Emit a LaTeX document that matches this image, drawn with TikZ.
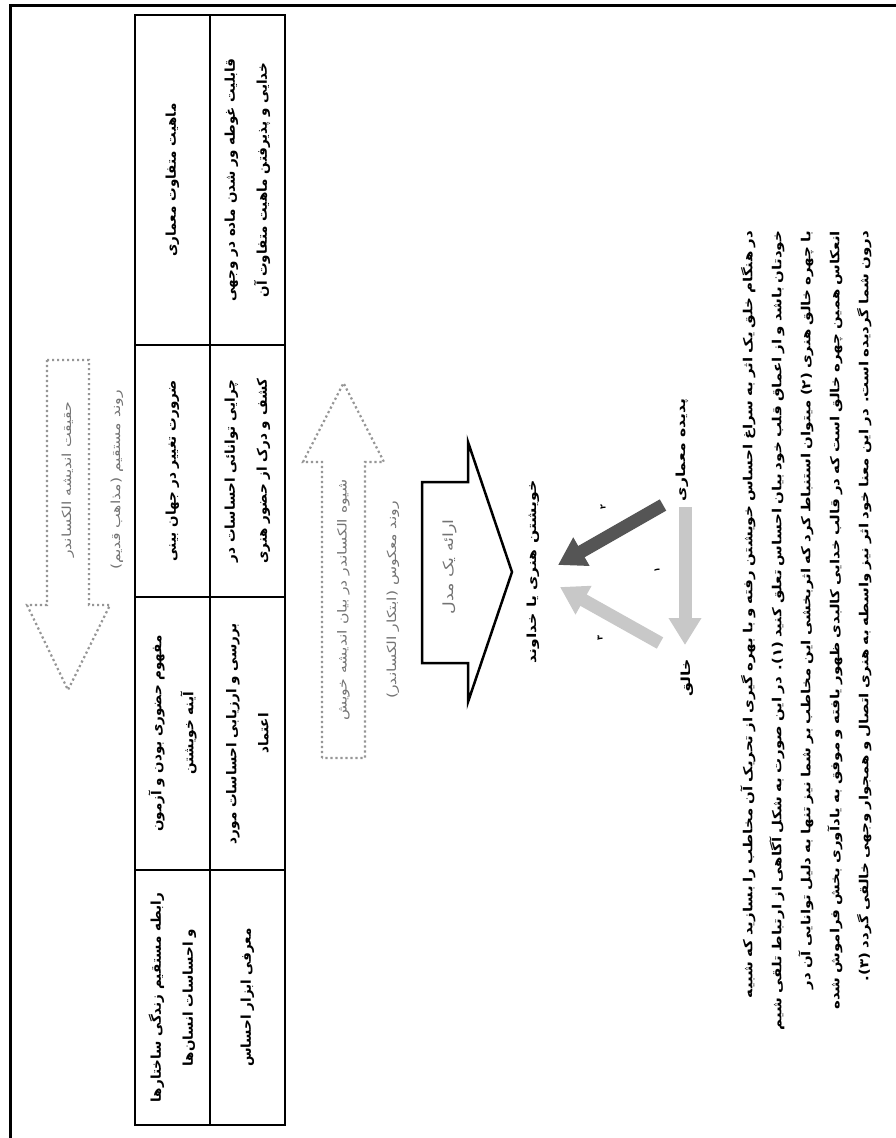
\documentclass[tikz,border=0pt]{standalone}
\usepackage{fontspec}
\newfontfamily\fa[Script=Arabic]{DejaVu Sans}
\newfontfamily\faw[Script=Arabic,FakeStretch=1.25]{DejaVu Sans}
\newfontfamily\fap[Script=Arabic,FakeStretch=1.2]{DejaVu Sans}
\TeXXeTstate=1
\usetikzlibrary{arrows.meta}
\definecolor{dotgray}{RGB}{150,150,150}
\definecolor{labgray}{RGB}{115,115,115}
\definecolor{darkarr}{RGB}{85,85,85}
\definecolor{lightarr}{RGB}{200,200,200}
\newcommand{\rtl}[1]{\beginR #1\endR}
\newcommand{\rtlbox}[1]{\mbox{\beginR #1\endR}}

\begin{document}
\begin{tikzpicture}[x=1pt,y=-1pt,
  cellbox/.style={draw, line width=1.6pt, rotate=90, align=center, inner sep=0pt,
    minimum height=75pt, font=\fa\bfseries\fontsize{13.5}{32}\selectfont},
  dotarrow/.style={draw=dotgray, line width=2.2pt, dash pattern=on 2.2pt off 2.8pt},
  dotlabel/.style={rotate=90, text=labgray, font=\faw\fontsize{12.5}{14}\selectfont},
  keylabel/.style={rotate=90, font=\faw\bfseries\fontsize{12.5}{14}\selectfont},
  numlabel/.style={rotate=90, font=\fa\bfseries\fontsize{8}{9}\selectfont},
  bigarrow/.style={line width=13pt, -{Triangle[length=27pt,width=31pt]}}
]
\fill[white] (0,0) rectangle (896,1138);
\useasboundingbox (0,0) rectangle (896,1138);

% frame
\draw[line width=3pt] (10,1138) -- (10,5) -- (896,5);

% table, header row on the left
\node[cellbox, minimum width=330pt] (h1) at (172.5,180) {\rtl{ماهیت متفاوت معماری}};
\node[cellbox, minimum width=252pt] (h2) at (172.5,471) {\rtl{ضرورت تغییر در جهان بینی}};
\node[cellbox, minimum width=273pt] (h3) at (172.5,733.5) {\rtl{مفهوم حضوری بودن و آزمون}\\\rtl{آینه خویشتن}};
\node[cellbox, minimum width=255pt] (h4) at (172.5,997.5) {\rtl{رابطه مستقیم زندگی ساختارها}\\\rtl{و احساسات انسان‌ها}};
\node[cellbox, minimum width=330pt] (b1) at (247.5,180) {\rtl{قابلیت غوطه ور شدن ماده در وجهی}\\\rtl{خدایی و پذیرفتن ماهیت متفاوت آن}};
\node[cellbox, minimum width=252pt] (b2) at (247.5,471) {\rtl{چرایی توانائی احساسات در}\\\rtl{کشف و درک از حضور هنری}};
\node[cellbox, minimum width=273pt] (b3) at (247.5,733.5) {\rtl{بررسی و ارزیابی احساسات مورد}\\\rtl{اعتماد}};
\node[cellbox, minimum width=255pt] (b4) at (247.5,997.5) {\rtl{معرفی ابزار احساس}};

% dotted arrows
\draw[dotarrow] (47,360) -- (89,360) -- (89,605) -- (110,605) -- (68,690) -- (27,605) -- (47,605) -- cycle;
\node[dotlabel] (haghighat) at (68,480) {\rtl{حقیقت اندیشه الکساندر}};
\node[dotlabel] (mostaghim) at (117,480) {\rtl{روند مستقیم (مذاهب قدیم)}};

\draw[dotarrow] (322,758) -- (322,462) -- (303,462) -- (343.5,383) -- (384,462) -- (365,462) -- (365,758) -- cycle;
\node[dotlabel] (shiveh) at (343.5,600) {\rtl{شیوه الکساندر در بیان اندیشه خویش}};
\node[dotlabel] (maakus) at (393,600) {\rtl{روند معکوس (ابتکار الکساندر)}};

% model arrow
\draw[line width=2.5pt, fill=white] (422,482) -- (468,482) -- (468,442) -- (512,572) -- (468,702) -- (468,663) -- (422,663) -- cycle;
\node[dotlabel, font=\faw\fontsize{14}{16}\selectfont] (model) at (450,567) {\rtl{ارائه یک مدل}};

% triangle
\node[keylabel] (khishtan) at (533,572) {\rtl{خویشتن هنری یا خداوند}};
\node[keylabel] (padideh) at (682,450) {\rtl{پدیده معماری}};
\node[keylabel] (khalegh) at (687,678) {\rtl{خالق}};
\coordinate (p1) at (663,505);
\coordinate (k1) at (558,565);
\coordinate (p2) at (685,507);
\coordinate (l1) at (685,645);
\coordinate (l2) at (660,643);
\coordinate (k2) at (560,587);
\draw[bigarrow, darkarr] (p1) -- (k1);
\draw[bigarrow, lightarr] (p2) -- (l1);
\draw[bigarrow, lightarr] (l2) -- (k2);
\node[numlabel] (n2) at (603,507) {۲};
\node[numlabel] (n1) at (657,570) {۱};
\node[numlabel] (n3) at (600,638) {۳};

% text
\node[rotate=90, text width=810pt, align=right, inner sep=0pt, font=\fap\bfseries\fontsize{12.5}{29}\selectfont] (matn) at (806,636) {%
\rtlbox{در هنگام خلق یک اثر به سراغ احساس خویشتن رفته و با بهره گیری از تحریک آن مخاطب را بسازید که شبیه}\\
\rtlbox{خودتان باشد و از اعماق قلب خود بیان احساس تعلق کنید (۱). در این صورت به شکل آگاهی از ارتباط تلقی شیم}\\
\rtlbox{با چهره خالق هنری (۲) میتوان استنباط کرد که اثربخشی این مخاطب بر شما نیز تنها به دلیل توانایی آن در}\\
\rtlbox{انعکاس همین چهره خالق است که در قالب خدایی کالبدی ظهور یافته و موفق به یادآوری بخش فراموش شده}\\
\rtlbox{درون شما گردیده است. در این معنا خود اثر نیز واسطه به هنری اتصال و همجوار وجهی خالقی گردد (۳).}};
\end{tikzpicture}
\end{document}
